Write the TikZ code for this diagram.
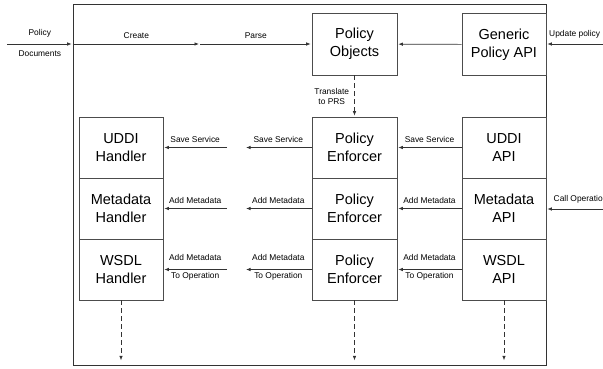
\documentclass[tikz,border=0pt]{standalone}
\usepackage{fontspec}
\setmainfont{Liberation Sans}
\usetikzlibrary{arrows.meta,positioning}

\begin{document}
\begin{tikzpicture}[x=1pt,y=-1pt,shorten >=1pt,->,>={Latex[length=4.5pt,width=3.5pt]},draw=black!80,line width=0.7pt]
    \tikzstyle{box}=[rectangle,draw=black!70,minimum width=84pt,minimum height=61pt,inner sep=0pt,align=center,font=\fontsize{14.5}{18}\selectfont]
    \tikzstyle{lab}=[font=\fontsize{8.4}{10}\selectfont,inner sep=2pt]
    \tikzstyle{dashflow}=[dashed,dash pattern=on 5pt off 3pt]

    \useasboundingbox (0,0) rectangle (603,368);

    % Draw the outer frame
    \node[draw=black!80,minimum width=473pt,minimum height=361pt,inner sep=0pt] (frame) at (309.5,184.5) {};

    % Draw the top row boxes
    \node[box,minimum width=85pt,minimum height=62pt] (PO) at (354.5,44) {Policy\\Objects};
    \node[box,minimum height=62pt] (GP) at (504,44.5) {Generic\\Policy API};

    % Draw the three rows of handlers, enforcers and APIs
    \foreach \name / \y / \what in {1/147.5/UDDI,2/208.5/Metadata,3/269.5/WSDL} {
        \node[box] (H-\name) at (121,\y) {\what\\Handler};
        \node[box,minimum width=85pt] (E-\name) at (354.5,\y) {Policy\\Enforcer};
        \node[box] (A-\name) at (504,\y) {\what\\API};
    }

    % Free ends outside the frame and the gap between enforcers and handlers
    \coordinate (doc) at (7,44);
    \coordinate (upd) at (603,44);
    \coordinate (call) at (603,209);
    \coordinate (parse) at (200,44);
    \coordinate (gapR) at (245,0);
    \coordinate (gapL) at (227,0);

    % Incoming policies
    \draw (doc) -- node[lab,above=4pt]{Policy} node[lab,below=4pt]{Documents} (doc -| frame.west);
    \draw (doc -| frame.west) -- node[lab,above=3pt]{Create} (parse);
    \draw (parse) -- node[lab,above=3pt]{Parse} (PO);
    \draw (GP) -- (PO);
    \draw (upd) -- node[lab,above=3pt]{Update policy} (upd -| frame.east);
    \draw (call) -- node[lab,pos=1,above right=3pt and 5pt]{Call Operation} (call -| frame.east);

    % Translate the policy objects
    \draw[dashflow] (PO) -- node[lab,left=3pt,align=center]{Translate\\to PRS} (E-1);

    % Connect the APIs with the enforcers
    \draw (A-1) -- node[lab,above=3pt]{Save Service} (E-1);
    \draw (A-2) -- node[lab,above=3pt]{Add Metadata} (E-2);
    \draw (A-3) -- node[lab,above=7pt]{Add Metadata} node[lab,below=1pt]{To Operation} (E-3);

    % Connect the enforcers with the handlers, with a gap in the middle
    \draw (E-1) -- node[lab,above=3pt]{Save Service} (E-1 -| gapR);
    \draw (E-1 -| gapL) -- node[lab,above=3pt]{Save Service} (H-1);
    \draw (E-2) -- node[lab,above=3pt]{Add Metadata} (E-2 -| gapR);
    \draw (E-2 -| gapL) -- node[lab,above=3pt]{Add Metadata} (H-2);
    \draw (E-3) -- node[lab,above=7pt]{Add Metadata} node[lab,below=1pt]{To Operation} (E-3 -| gapR);
    \draw (E-3 -| gapL) -- node[lab,above=7pt]{Add Metadata} node[lab,below=1pt]{To Operation} (H-3);

    % Outputs leaving the frame
    \foreach \src in {H-3,E-3,A-3}
        \draw[dashflow,shorten >=5pt] (\src) -- (\src.south |- frame.south);
\end{tikzpicture}
\end{document}
